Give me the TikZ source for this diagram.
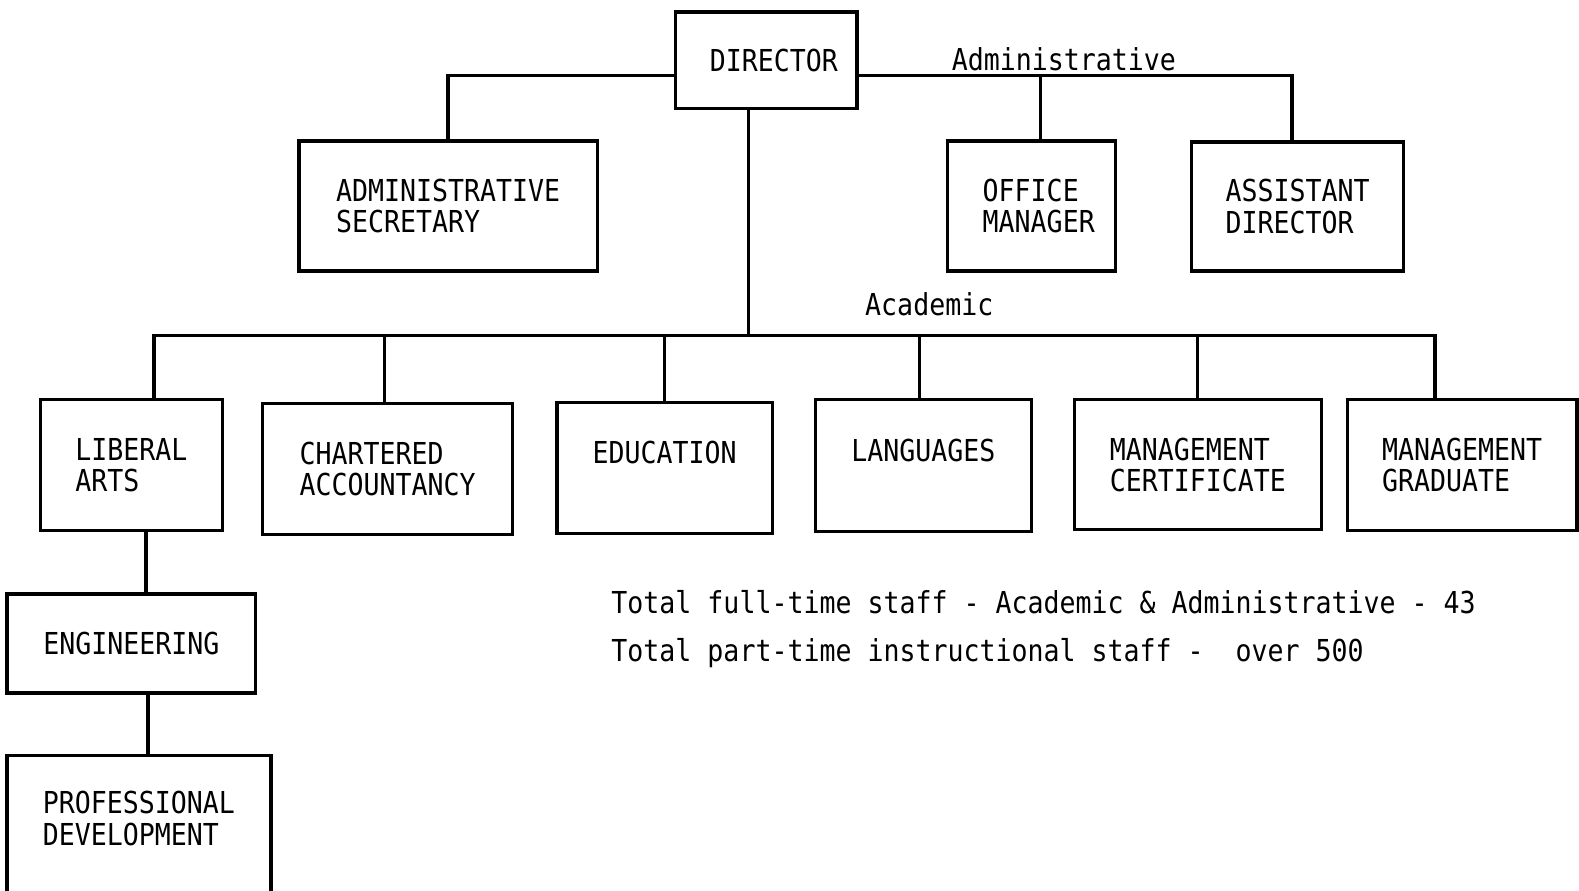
\documentclass[tikz,border=0pt]{standalone}
\usepackage{fontspec}
\newfontfamily\typewriter[FakeStretch=0.88]{DejaVu Sans Mono}
\begin{document}
\begin{tikzpicture}[x=1pt,y=-1pt,
  unit/.style={draw, line width=3.3pt, rectangle, inner sep=0pt, align=left,
    font=\typewriter\fontsize{30}{31}\selectfont},
  link/.style={line width=3.3pt},
  caption/.style={anchor=base west, inner sep=0pt,
    font=\typewriter\fontsize{30}{31}\selectfont}]
\fill[white] (0,0) rectangle (1568,884);
\useasboundingbox (0,0) rectangle (1568,884);
\clip (0,0) rectangle (1568,884);

% top level
\node[unit, minimum width=180pt, minimum height=96pt] (dir) at (761,60) {\hspace*{15pt}DIRECTOR};

% administrative staff
\node[unit, minimum width=296pt, minimum height=129pt] (sec) at (445,204.5) {ADMINISTRATIVE\\SECRETARY};
\node[unit, minimum width=167pt, minimum height=129pt] (om) at (1024.5,204.5) {\hspace*{14pt}OFFICE\\\hspace*{14pt}MANAGER};
\node[unit, minimum width=211pt, minimum height=128pt] (ast) at (1288.5,205) {ASSISTANT\\DIRECTOR};

% academic divisions
\node[unit, minimum width=181pt, minimum height=130pt] (lib) at (130.5,462) {LIBERAL\\ARTS};
\node[unit, minimum width=248pt, minimum height=130pt] (cha) at (385,466) {CHARTERED\\ACCOUNTANCY};
\node[unit, minimum width=214pt, minimum height=130pt] (edu) at (660,465) {EDUCATION\\\mbox{}};
\node[unit, minimum width=214pt, minimum height=131pt] (lan) at (917,462.5) {LANGUAGES\\\mbox{}};
\node[unit, minimum width=245pt, minimum height=129pt] (mc) at (1189.5,461.5) {MANAGEMENT\\CERTIFICATE};
\node[unit, minimum width=228pt, minimum height=130pt] (mg) at (1452,462) {MANAGEMENT\\GRADUATE};
\node[unit, minimum width=247pt, minimum height=98pt] (eng) at (130.5,639) {ENGINEERING};
\node[unit, minimum width=262pt, minimum height=187pt] (pd) at (138,843.5) {PROFESSIONAL\\DEVELOPMENT\\\mbox{}\\\mbox{}};

% branch labels
\node[caption] (admlabel) at (945,70) {Administrative};
\node[caption] (acalabel) at (859,313) {Academic};

% staff totals
\node[caption] (note1) at (607,609) {Total full-time staff - Academic \& Administrative - 43};
\node[caption] (note2) at (607,657) {Total part-time instructional staff -\ \ over 500};

% administrative branch
\draw[link] ([yshift=-15pt]dir.west) -| (sec.north);
\draw[link] ([yshift=-15pt]dir.east) -| ([xshift=-5.5pt]ast.north);
\draw[link] ([xshift=8.5pt]om.north) |- ([yshift=-15pt]dir.east);

% academic branch
\coordinate (bus) at (743,333);
\draw[link] ([xshift=-18pt]dir.south) -- (bus);
\draw[link] ([xshift=22.5pt]lib.north) |- (bus) -| ([xshift=-27pt]mg.north);
\draw[link] ([xshift=-3pt]cha.north) |- (bus);
\draw[link] (edu.north) |- (bus);
\draw[link] ([xshift=-4pt]lan.north) |- (bus);
\draw[link] ([xshift=-0.5pt]mc.north) |- (bus);

% liberal arts chain
\draw[link] ([xshift=14.5pt]lib.south) -- ([xshift=14.5pt]eng.north);
\draw[link] ([xshift=16.5pt]eng.south) -- ([xshift=9pt]pd.north);
\end{tikzpicture}
\end{document}
